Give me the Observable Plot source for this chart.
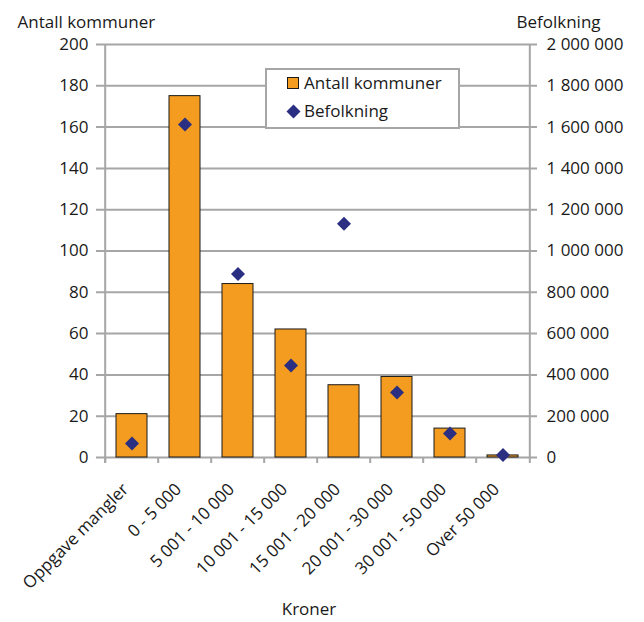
<!DOCTYPE html>
<html>
<head>
<meta charset="utf-8">
<script src="https://cdn.jsdelivr.net/npm/d3@7"></script>
<script src="https://cdn.jsdelivr.net/npm/@observablehq/plot@0.6"></script>
<style>
  body { margin: 0; background: #fff; }
  #chart { position: relative; width: 644px; height: 622px; font-family: "Open Sans", sans-serif; color: #1a1a1a; }
  .legend { position: absolute; left: 265px; top: 68px; width: 191px; height: 57px; border: 2px solid #a6a6a6; background: #fff; font-size: 17px; }
  .legend .item { position: absolute; left: 37px; line-height: 20px; white-space: nowrap; }
  .legend .swatch { position: absolute; left: 20px; top: 7px; width: 12px; height: 12px; box-sizing: border-box; background: #F39C1F; border: 1px solid #1a1a1a; }
  .legend svg { position: absolute; left: 19px; top: 34px; }
</style>
</head>
<body>
<div id="chart"></div>
<script>
// Kommuner fordelt etter beløp (kroner), med samlet befolkning i hver gruppe
const kategorier = ["Oppgave mangler", "0 - 5 000", "5 001 - 10 000", "10 001 - 15 000",
  "15 001 - 20 000", "20 001 - 30 000", "30 001 - 50 000", "Over 50 000"];
const antallKommuner = [21, 175, 84, 62, 35, 39, 14, 1];
const befolkning = [68000, 1613000, 889000, 445000, 1132000, 315000, 116000, 12000];

const venstreTicks = [0, 20, 40, 60, 80, 100, 120, 140, 160, 180, 200];
const hoyreTicks = [0, 200000, 400000, 600000, 800000, 1000000, 1200000, 1400000, 1600000, 1800000, 2000000];

// Befolkning vises mot høyre akse: 2 000 000 tilsvarer 200 på venstre akse
const faktor = 2000000 / 200;

const rader = kategorier.map((k, i) => ({kategori: k, antall: antallKommuner[i], befolkning: befolkning[i]}));

const fmt = d3.formatLocale({decimal: ",", thousands: " ", grouping: [3], currency: ["", ""]}).format(",d");

const W = 644, H = 622;
const mL = 102, mR = 113, mT = 44, mB = 165;
const bw = (W - mL - mR) / kategorier.length;
const grid = "#a6a6a6";
const ink = "#1a1a1a";

const plot = Plot.plot({
  width: W,
  height: H,
  marginLeft: mL,
  marginRight: mR,
  marginTop: mT,
  marginBottom: mB,
  style: {fontSize: "17px", fontFamily: "'Open Sans', sans-serif", color: ink, background: "white", overflow: "visible"},
  x: {type: "band", domain: kategorier, padding: 0},
  y: {domain: [0, 200]},
  marks: [
    // gridlines, extended a little past both axes as tick marks
    Plot.ruleY(venstreTicks, {stroke: grid, strokeWidth: 2, insetLeft: -6, insetRight: -6}),
    // vertical axis lines
    Plot.ruleX([kategorier[0]], {x: d => d, dx: -bw / 2, stroke: grid, strokeWidth: 2, insetBottom: -6}),
    Plot.ruleX([kategorier[kategorier.length - 1]], {x: d => d, dx: bw / 2, stroke: grid, strokeWidth: 2, insetBottom: -6}),
    // category boundary ticks
    Plot.axisX(kategorier, {tickSize: 6, tickFormat: () => "", dx: -bw / 2, stroke: grid, strokeWidth: 2, label: null}),
    Plot.axisY(venstreTicks, {tickSize: 0, tickPadding: 14, label: null}),
    Plot.axisY(hoyreTicks.map(v => v / faktor), {anchor: "right", tickSize: 0, tickPadding: 15, tickFormat: d => fmt(d * faktor), label: null}),
    Plot.barY(rader, {x: "kategori", y: "antall", fill: "#F39C1F", stroke: ink, strokeWidth: 1, insetLeft: 11, insetRight: 11}),
    Plot.dot(rader, {x: "kategori", y: d => d.befolkning / faktor, symbol: "diamond2", r: 6.3, fill: "#2B2F81"}),
    // category labels
    Plot.text(kategorier, {x: d => d, text: d => d, frameAnchor: "bottom", lineAnchor: "middle", rotate: -45, textAnchor: "end", dx: -6.5, dy: 29, fill: ink}),
    // axis titles
    Plot.text(["Antall kommuner"], {text: d => d, frameAnchor: "top-left", lineAnchor: "middle", textAnchor: "start", dx: -85, dy: -22, fill: ink}),
    Plot.text(["Befolkning"], {text: d => d, frameAnchor: "top-right", lineAnchor: "middle", textAnchor: "start", dx: -15, dy: -22, fill: ink}),
    Plot.text(["Kroner"], {text: d => d, frameAnchor: "bottom", lineAnchor: "middle", dx: -8, dy: 152, fill: ink})
  ]
});

const chart = document.getElementById("chart");
chart.appendChild(plot);

// legend
const legend = document.createElement("div");
legend.className = "legend";
legend.innerHTML =
  `<div class="swatch"></div>` +
  `<div class="item" style="top:3px">Antall kommuner</div>` +
  `<svg width="15" height="15" viewBox="-7.5 -7.5 15 15"><path d="M0,-7L7,0L0,7L-7,0Z" fill="#2B2F81"/></svg>` +
  `<div class="item" style="top:31px">Befolkning</div>`;
chart.appendChild(legend);
</script>
</body>
</html>
